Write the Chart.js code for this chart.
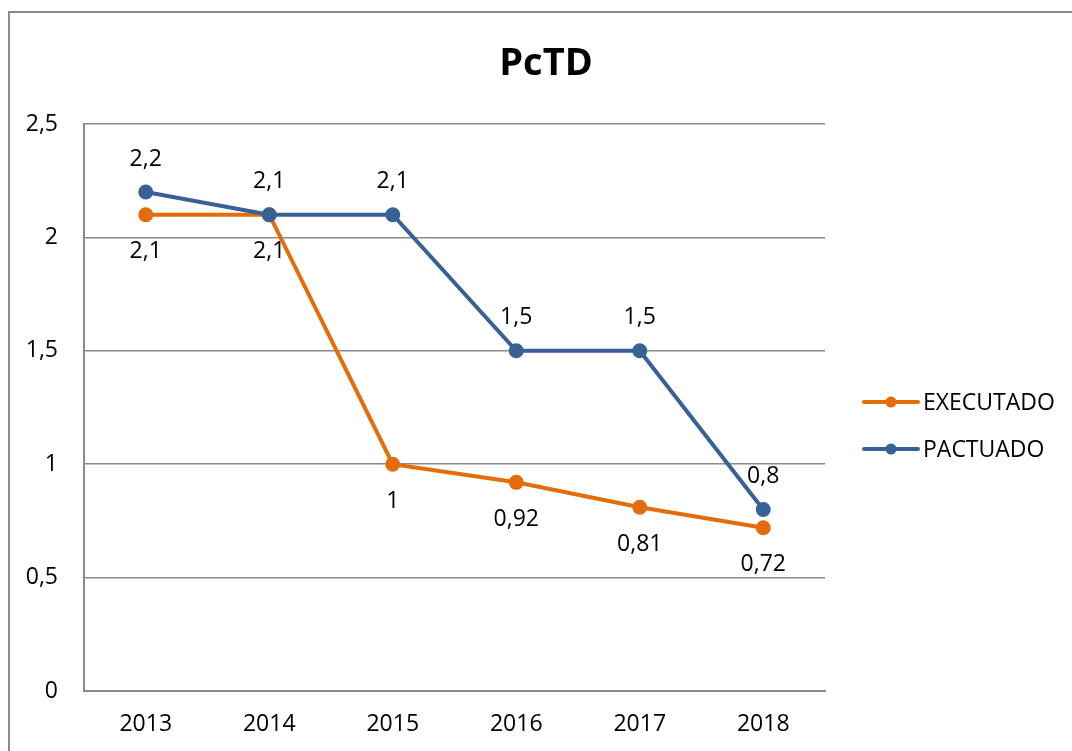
<!DOCTYPE html>
<html>
<head>
<meta charset="utf-8">
<script src="https://cdn.jsdelivr.net/npm/chart.js@4/dist/chart.umd.min.js"></script>
<style>
  html, body { margin: 0; padding: 0; background: #fff; overflow: hidden; }
  #wrap { position: relative; width: 1072px; height: 751px; }
  #frame {
    position: absolute; left: 8px; top: 11px; width: 1200px; height: 900px;
    border: 2px solid #8a8a8a; pointer-events: none;
  }
</style>
</head>
<body>
<div id="wrap">
  <canvas id="chart" width="1072" height="751"></canvas>
  <div id="frame"></div>
</div>
<script>
const years = ['2013', '2014', '2015', '2016', '2017', '2018'];
const executado = [2.1, 2.1, 1, 0.92, 0.81, 0.72];
const pactuado = [2.2, 2.1, 2.1, 1.5, 1.5, 0.8];
const seriesNames = ['EXECUTADO', 'PACTUADO'];
const colors = ['#E46C0A', '#386195'];
const chartTitle = 'PcTD';

const FONT = '"Open Sans", sans-serif';
const fmt = v => String(v).replace('.', ',');

// labels, title and legend drawn on the canvas
const extras = {
  id: 'extras',
  afterDraw(chart) {
    const ctx = chart.ctx;
    ctx.save();

    // point labels: executado below, pactuado above
    ctx.font = '23px ' + FONT;
    ctx.fillStyle = '#000';
    ctx.textAlign = 'center';
    ctx.textBaseline = 'middle';
    chart.data.datasets.forEach((ds, i) => {
      const meta = chart.getDatasetMeta(i);
      const below = ds.label === 'EXECUTADO';
      meta.data.forEach((pt, j) => {
        ctx.fillText(fmt(ds.data[j]), pt.x, pt.y + (below ? 37 : -33));
      });
    });

    // title
    ctx.font = 'bold 38px ' + FONT;
    ctx.fillText(chartTitle, 546, 64);

    // legend
    const legendX = 864;
    const rows = [402, 449];
    chart.data.datasets.forEach((ds, i) => {
      const y = rows[seriesNames.indexOf(ds.label)];
      ctx.strokeStyle = ds.borderColor;
      ctx.lineWidth = 4;
      ctx.lineCap = 'round';
      ctx.beginPath();
      ctx.moveTo(legendX, y);
      ctx.lineTo(legendX + 54, y);
      ctx.stroke();
      ctx.fillStyle = ds.borderColor;
      ctx.beginPath();
      ctx.arc(legendX + 27, y, 5.5, 0, Math.PI * 2);
      ctx.fill();
      ctx.fillStyle = '#000';
      ctx.textAlign = 'left';
      ctx.font = '23px ' + FONT;
      ctx.fillText(ds.label, legendX + 59, y + 1);
    });
    ctx.restore();
  }
};

new Chart(document.getElementById('chart').getContext('2d'), {
  type: 'line',
  data: {
    labels: years,
    datasets: [
      {
        label: seriesNames[0],
        data: executado,
        borderColor: colors[0],
        backgroundColor: colors[0],
        borderWidth: 4,
        pointRadius: 5.5,
        pointHoverRadius: 5.5,
        tension: 0,
        order: 1
      },
      {
        label: seriesNames[1],
        data: pactuado,
        borderColor: colors[1],
        backgroundColor: colors[1],
        borderWidth: 4,
        pointRadius: 5.5,
        pointHoverRadius: 5.5,
        tension: 0,
        order: 0
      }
    ]
  },
  options: {
    responsive: false,
    animation: false,
    layout: { padding: { left: 0, top: 124, right: 247, bottom: 0 } },
    plugins: {
      legend: { display: false },
      title: { display: false },
      tooltip: { enabled: false }
    },
    scales: {
      x: {
        offset: true,
        grid: { display: false, drawTicks: false },
        border: { display: true, color: '#8a8a8a', width: 2 },
        ticks: { color: '#000', font: { family: FONT, size: 23 }, padding: 20 },
        afterFit: s => { s.height = 60; }
      },
      y: {
        min: 0,
        max: 2.5,
        grid: { color: '#8a8a8a', lineWidth: 1.5, drawTicks: false },
        border: { display: true, color: '#8a8a8a', width: 2 },
        ticks: {
          stepSize: 0.5,
          color: '#000',
          font: { family: FONT, size: 23 },
          padding: 26,
          callback: v => fmt(v)
        },
        afterFit: s => { s.width = 84; }
      }
    }
  },
  plugins: [extras]
});
</script>
</body>
</html>
